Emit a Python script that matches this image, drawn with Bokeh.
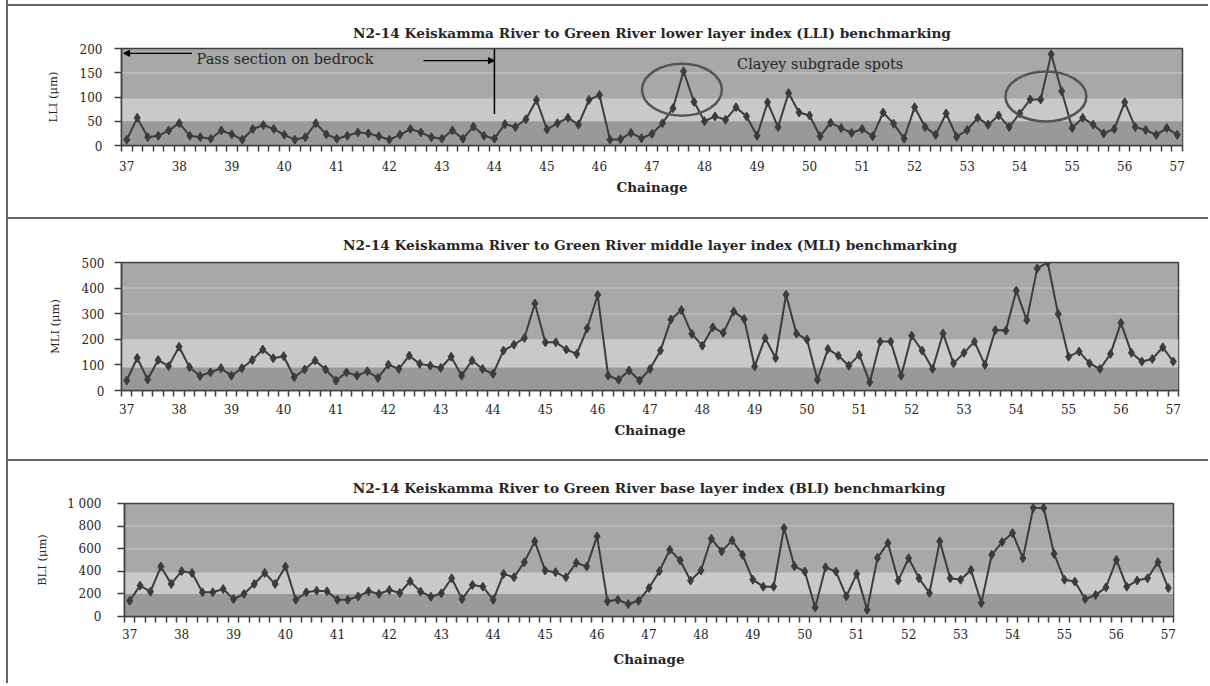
from bokeh.plotting import figure
from bokeh.models import FixedTicker, Label, Arrow, NormalHead, Div, Range1d
from bokeh.layouts import column, row
from bokeh.embed import file_html
from bokeh.resources import INLINE

# ---------------- data ----------------
chainage = [round(37 + 0.2 * i, 1) for i in range(101)]

lli = [12, 57, 17, 20, 31, 46, 20, 17, 14, 31,
       23, 12, 34, 42, 34, 22, 12, 17, 46, 23,
       14, 20, 27, 25, 19, 12, 22, 34, 27, 17,
       14, 31, 14, 39, 20, 14, 44, 38, 54, 94,
       33, 46, 57, 43, 94, 104, 12, 13, 26, 15,
       24, 46, 77, 153, 90, 50, 60, 53, 79, 60,
       20, 89, 38, 108, 68, 62, 19, 47, 36, 26,
       34, 19, 68, 45, 14, 79, 38, 22, 66, 18,
       32, 57, 43, 62, 38, 66, 95, 95, 188, 112,
       36, 57, 43, 25, 34, 89, 38, 32, 22, 36,
       22]

mli = [39, 127, 43, 119, 95, 171, 91, 57, 71, 87,
       58, 87, 119, 160, 126, 134, 52, 82, 117, 82,
       39, 71, 58, 75, 49, 101, 84, 136, 104, 97,
       88, 132, 58, 117, 84, 65, 156, 179, 205, 340,
       188, 188, 160, 143, 243, 373, 58, 42, 78, 39,
       84, 156, 277, 314, 221, 175, 247, 225, 309, 279,
       94, 205, 127, 374, 222, 199, 42, 162, 136, 97,
       139, 32, 191, 191, 58, 214, 156, 84, 223, 106,
       147, 191, 100, 236, 234, 390, 275, 477, 500, 299,
       132, 152, 106, 84, 143, 264, 147, 113, 123, 169,
       113]

bli = [139, 273, 220, 442, 288, 401, 386, 214, 214, 243,
       154, 199, 288, 386, 288, 442, 148, 214, 228, 223,
       148, 148, 178, 223, 199, 234, 208, 312, 220, 175,
       205, 338, 154, 279, 264, 148, 377, 347, 481, 665,
       407, 392, 347, 475, 442, 709, 134, 148, 110, 139,
       252, 401, 591, 496, 318, 407, 688, 576, 674, 546,
       326, 264, 264, 783, 445, 398, 80, 436, 398, 178,
       377, 59, 519, 650, 318, 516, 338, 208, 665, 338,
       326, 412, 119, 546, 659, 739, 516, 961, 961, 555,
       326, 309, 154, 190, 258, 501, 264, 318, 338, 481,
       252]

x_labels = list(range(37, 58))
lli_ticks = [0, 50, 100, 150, 200]
mli_ticks = [0, 100, 200, 300, 400, 500]
bli_ticks = [0, 200, 400, 600, 800, 1000]

# benchmark bands (lower, upper) per index
lli_bands = [50, 97]
mli_bands = [90, 200]
bli_bands = [200, 390]

titles = [
    "N2-14 Keiskamma River to Green River lower layer index (LLI) benchmarking",
    "N2-14 Keiskamma River to Green River middle layer index (MLI) benchmarking",
    "N2-14 Keiskamma River to Green River base layer index (BLI) benchmarking",
]

# ---------------- style ----------------
TOP = "#a8a8a8"
LIGHT = "#c9c9c9"
DARK = "#999999"
GRID = "#bdbdbd"
INK = "#3c3c3c"
TXT = "#262626"
FONT = "DejaVu Serif"
X0, X1 = 36.9, 57.1
W = 1200


def panel(title, ylabel, vals, ymax, yticks, bands, grid_vals, h, mb, title_standoff,
          xlab_standoff, xaxis_standoff, ylab_standoff, yaxis_standoff, overrides=None):
    p = figure(width=W, height=h, x_range=Range1d(X0, X1), y_range=Range1d(0, ymax),
               output_backend="svg", toolbar_location=None,
               min_border_left=mb[0], min_border_right=mb[1],
               min_border_top=mb[2], min_border_bottom=mb[3])
    p.frame_align = False
    p.background_fill_color = TOP
    p.border_fill_color = "white"
    p.outline_line_color = "#404040"
    p.outline_line_width = 1.5
    p.xgrid.visible = False
    p.ygrid.visible = False

    p.quad(left=[X0], right=[X1], bottom=[0], top=[bands[0]], fill_color=DARK, line_color=None)
    p.quad(left=[X0], right=[X1], bottom=[bands[0]], top=[bands[1]], fill_color=LIGHT, line_color=None)
    p.segment(x0=[X0] * len(grid_vals), x1=[X1] * len(grid_vals), y0=grid_vals, y1=grid_vals,
              line_color=GRID, line_width=1.5)

    p.line(chainage, vals, line_color=INK, line_width=2)
    p.scatter(chainage, vals, marker="diamond", size=9, fill_color=INK, line_color=INK)

    p.title.text = title
    p.title.text_font = FONT
    p.title.text_font_style = "bold"
    p.title.text_font_size = "13.7px"
    p.title.text_color = TXT
    p.title.align = "center"
    p.title.vertical_align = "middle"
    p.title.standoff = title_standoff

    xa = p.xaxis[0]
    xa.ticker = FixedTicker(ticks=x_labels,
                            minor_ticks=[round(X0 + 0.2 * k, 1) for k in range(102)])
    xa.major_tick_out = 0
    xa.major_tick_in = 0
    xa.minor_tick_out = 6
    xa.minor_tick_in = 0
    xa.minor_tick_line_color = "#404040"
    xa.minor_tick_line_width = 1.5
    xa.axis_line_color = "#404040"
    xa.axis_line_width = 1.5
    xa.major_label_standoff = xlab_standoff
    xa.major_label_text_font = FONT
    xa.major_label_text_font_size = "12px"
    xa.major_label_text_color = TXT
    xa.axis_label = "Chainage"
    xa.axis_label_text_font = FONT
    xa.axis_label_text_font_style = "bold"
    xa.axis_label_text_font_size = "13.5px"
    xa.axis_label_text_color = TXT
    xa.axis_label_standoff = xaxis_standoff

    ya = p.yaxis[0]
    ya.ticker = FixedTicker(ticks=yticks)
    ya.major_tick_out = 7
    ya.major_tick_in = 0
    ya.minor_tick_out = 0
    ya.minor_tick_in = 0
    ya.major_tick_line_color = "#404040"
    ya.major_tick_line_width = 1.5
    ya.axis_line_color = "#404040"
    ya.axis_line_width = 1.5
    ya.major_label_standoff = ylab_standoff
    ya.major_label_text_font = FONT
    ya.major_label_text_font_size = "12px"
    ya.major_label_text_color = TXT
    if overrides:
        ya.major_label_overrides = overrides
    ya.axis_label = ylabel
    ya.axis_label_text_font = FONT
    ya.axis_label_text_font_style = "normal"
    ya.axis_label_text_font_size = "11.5px"
    ya.axis_label_text_color = TXT
    ya.axis_label_standoff = yaxis_standoff
    return p


p1 = panel(titles[0], "LLI (\u03bcm)", lli, 200, lli_ticks, lli_bands, [150],
           211, (113, 26, 42, 72), 13, 9, 5, 12, 17)
p2 = panel(titles[1], "MLI (\u03bcm)", mli, 500, mli_ticks, mli_bands, [300, 400],
           240, (113, 30, 43, 69), 17, 7, 5, 10, 17)
p3 = panel(titles[2], "BLI (\u03bcm)", bli, 1000, bli_ticks, bli_bands, [600, 800],
           222, (116, 35, 42, 67), 13, 6, 9, 16, 15, overrides={1000: "1 000"})

# ---------------- annotations on LLI panel ----------------
pass_text = dict(x=38.33, y=178, text="Pass section on bedrock")
clay_text = dict(x=48.62, y=168, text="Clayey subgrade spots")
for t in (pass_text, clay_text):
    p1.add_layout(Label(x=t["x"], y=t["y"], text=t["text"], text_font=FONT,
                        text_font_size="14.5px", text_color=TXT, text_baseline="middle"))

arrow_left = dict(x0=38.24, x1=36.94, y=190)
arrow_right = dict(x0=42.65, x1=44.0, y=175)
for a in (arrow_left, arrow_right):
    p1.add_layout(Arrow(end=NormalHead(size=6, fill_color="black", line_color="black"),
                        x_start=a["x0"], y_start=a["y"], x_end=a["x1"], y_end=a["y"],
                        line_color="black", line_width=1.2))

bedrock_end = dict(x=44.0, y0=65, y1=200)
p1.segment(x0=[bedrock_end["x"]], x1=[bedrock_end["x"]], y0=[bedrock_end["y0"]],
           y1=[bedrock_end["y1"]], line_color="black", line_width=1.5)

circ_x = [47.57, 54.5]
circ_y = [115, 101]
circ_w = [1.52, 1.54]
circ_h = [107, 103]
p1.ellipse(x=circ_x, y=circ_y, width=circ_w, height=circ_h, fill_color=None,
           line_color="#555555", line_width=2.5)

# ---------------- page frame lines ----------------
LINE = "#666666"


def box(w, h, color):
    return Div(text="", width=w, height=h, margin=(0, 0, 0, 0),
               styles={"background-color": color})


col = column(box(W, 4, "white"), box(W, 2, LINE), p1, box(W, 2, LINE), p2,
             box(W, 2, LINE), p3, spacing=0)
layout = row(box(6, 683, "white"), box(2, 683, LINE), col, spacing=0)

open("out.html", "w").write(file_html(layout, INLINE))
